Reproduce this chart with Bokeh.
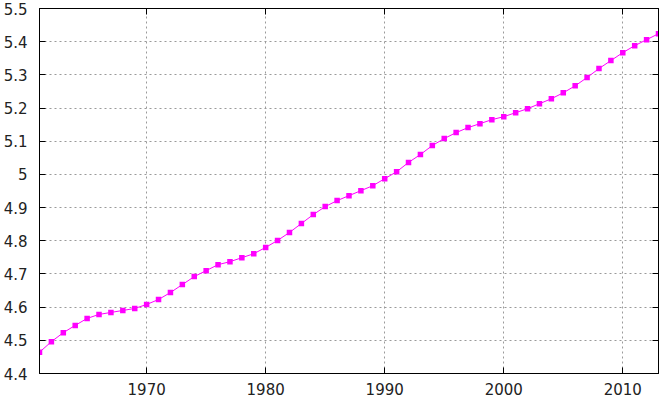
from bokeh.plotting import figure
from bokeh.models import Range1d, FixedTicker, LinearAxis, ColumnDataSource, CustomJSTickFormatter
from bokeh.embed import file_html
from bokeh.resources import INLINE

years = list(range(1961, 2014))
values = [4.464, 4.496, 4.523, 4.545, 4.566, 4.578, 4.584, 4.590, 4.596, 4.608,
          4.623, 4.644, 4.668, 4.692, 4.710, 4.728, 4.737, 4.749, 4.761, 4.780,
          4.801, 4.825, 4.852, 4.879, 4.903, 4.921, 4.936, 4.951, 4.966, 4.987,
          5.008, 5.036, 5.060, 5.087, 5.108, 5.126, 5.141, 5.153, 5.165, 5.174,
          5.186, 5.198, 5.213, 5.228, 5.246, 5.267, 5.292, 5.319, 5.343, 5.367,
          5.388, 5.406, 5.424]

x_ticks = [1970, 1980, 1990, 2000, 2010]
y_ticks = [4.4, 4.5, 4.6, 4.7, 4.8, 4.9, 5.0, 5.1, 5.2, 5.3, 5.4, 5.5]
y_tick_labels = ["4.4", "4.5", "4.6", "4.7", "4.8", "4.9", "5", "5.1", "5.2", "5.3", "5.4", "5.5"]

src = ColumnDataSource(dict(x=years, y=values))

p = figure(width=661, height=397, output_backend="svg", toolbar_location=None,
           x_range=Range1d(1961, 2013), y_range=Range1d(4.4, 5.5),
           min_border_left=38, min_border_right=3, min_border_top=8, min_border_bottom=2)
p.background_fill_color = "white"
p.border_fill_color = "white"
p.outline_line_color = "black"
p.outline_line_width = 1

FONT = "DejaVu Sans"
TXT = "#222222"

for ax in (p.xaxis[0], p.yaxis[0]):
    ax.axis_line_color = "black"
    ax.major_tick_in = 6
    ax.major_tick_out = 0
    ax.major_tick_line_color = "black"
    ax.minor_tick_line_color = None
    ax.major_label_text_font = FONT
    ax.major_label_text_font_size = "15px"
    ax.major_label_text_color = TXT

p.xaxis[0].ticker = FixedTicker(ticks=x_ticks)
p.xaxis[0].major_label_standoff = 9
p.yaxis[0].ticker = FixedTicker(ticks=y_ticks)
p.yaxis[0].major_label_overrides = {t: l for t, l in zip(y_ticks, y_tick_labels)}
p.yaxis[0].major_label_standoff = 12

# mirror axes (ticks only)
blank = CustomJSTickFormatter(code="return '';")
top = LinearAxis(ticker=FixedTicker(ticks=x_ticks), formatter=blank)
right = LinearAxis(ticker=FixedTicker(ticks=y_ticks), formatter=blank)
for ax in (top, right):
    ax.axis_line_color = "black"
    ax.major_tick_in = 6
    ax.major_tick_out = 0
    ax.major_tick_line_color = "black"
    ax.minor_tick_line_color = None
    ax.major_label_text_font_size = "1px"
    ax.major_label_standoff = 0
p.add_layout(top, "above")
p.add_layout(right, "right")

p.xgrid.ticker = FixedTicker(ticks=x_ticks)
p.ygrid.ticker = FixedTicker(ticks=y_ticks)
for g in (p.xgrid[0], p.ygrid[0]):
    g.grid_line_color = "#9a9a9a"
    g.grid_line_dash = "2 3"
    g.grid_line_width = 1

p.line("x", "y", source=src, line_color="#ff00ff", line_width=1)
p.scatter("x", "y", source=src, marker="square", size=5.5,
          fill_color="#ff00ff", line_color="#ff00ff", line_width=0)

open("out.html", "w").write(file_html(p, INLINE))
